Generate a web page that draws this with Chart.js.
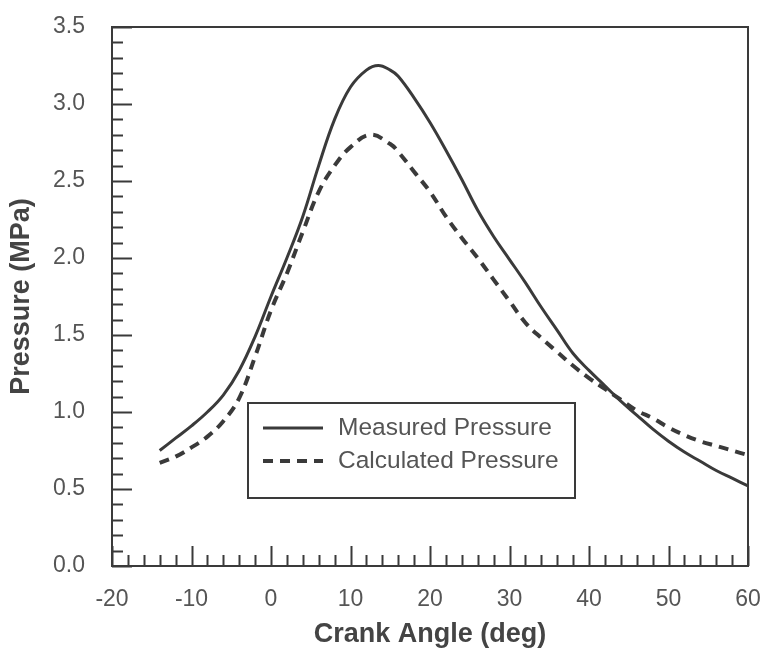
<!DOCTYPE html>
<html>
<head>
<meta charset="utf-8">
<script src="https://cdn.jsdelivr.net/npm/chart.js@4/dist/chart.umd.min.js"></script>
<style>
  html, body { margin: 0; padding: 0; background: #fff; }
  #wrap { width: 766px; height: 653px; position: relative; }
</style>
</head>
<body>
<div id="wrap"><canvas id="c"></canvas></div>
<script>
// crank angle (deg) and pressure (MPa)
const measuredAngle = [-14, -12, -10, -8, -6, -4, -2, 0, 2, 4, 6, 8, 10, 12, 13.5, 15, 16, 18, 20, 22, 24, 26, 28, 30, 32, 34, 36, 38, 40, 42, 44, 46, 48, 50, 52, 54, 56, 58, 60];
const measuredP     = [0.75, 0.83, 0.91, 1.00, 1.11, 1.27, 1.49, 1.75, 2.00, 2.27, 2.60, 2.90, 3.11, 3.22, 3.25, 3.22, 3.18, 3.04, 2.88, 2.70, 2.51, 2.31, 2.14, 1.99, 1.84, 1.68, 1.53, 1.38, 1.27, 1.17, 1.07, 0.98, 0.89, 0.81, 0.74, 0.68, 0.62, 0.57, 0.52];

const calcAngle = [-14, -12, -10, -8, -6, -4, -2, 0, 2, 4, 6, 8, 10, 12.5, 15, 16, 18, 20, 22, 24, 26, 28, 30, 32, 34, 36, 38, 40, 42, 44, 46, 48, 50, 52, 54, 56, 58, 60];
const calcP     = [0.67, 0.71, 0.77, 0.84, 0.94, 1.09, 1.36, 1.66, 1.90, 2.17, 2.43, 2.60, 2.72, 2.80, 2.74, 2.69, 2.56, 2.43, 2.27, 2.13, 2.00, 1.86, 1.72, 1.58, 1.48, 1.39, 1.30, 1.22, 1.15, 1.08, 1.01, 0.96, 0.90, 0.85, 0.81, 0.78, 0.75, 0.72];

const seriesNames = ['Measured Pressure', 'Calculated Pressure'];
const xTicks = [-20, -10, 0, 10, 20, 30, 40, 50, 60];
const yTicks = [0, 0.5, 1.0, 1.5, 2.0, 2.5, 3.0, 3.5];

const INK = '#3a3a3a';
const FONT = "'Liberation Sans', Arial, Helvetica, sans-serif";

const pts = (xs, ys) => xs.map((x, i) => ({ x, y: ys[i] }));

// frame, inward minor/major ticks and boxed legend
const framePlugin = {
  id: 'frame',
  afterDatasetsDraw(chart) {
    const { ctx, chartArea: a, scales: { x, y } } = chart;
    ctx.save();
    ctx.strokeStyle = INK;
    ctx.lineWidth = 2;
    ctx.strokeRect(a.left, a.top, a.right - a.left, a.bottom - a.top);

    ctx.beginPath();
    for (let v = -20; v <= 60; v += 2) {
      const px = Math.round(x.getPixelForValue(v)) + 0.5;
      const len = v % 10 === 0 ? 20 : 11;
      ctx.moveTo(px, a.bottom); ctx.lineTo(px, a.bottom - len);
    }
    for (let k = 0; k <= 35; k++) {
      const py = Math.round(y.getPixelForValue(k / 10)) + 0.5;
      const len = k % 5 === 0 ? 20 : 11;
      ctx.moveTo(a.left, py); ctx.lineTo(a.left + len, py);
    }
    ctx.stroke();

    // legend box
    const bx = 248, by = 403, bw = 327, bh = 95;
    ctx.lineWidth = 2;
    ctx.strokeRect(bx, by, bw, bh);
    ctx.font = '24.5px ' + FONT;
    ctx.fillStyle = '#555';
    ctx.textBaseline = 'middle';
    chart.data.datasets.forEach((ds, i) => {
      const ly = by + 25 + i * 33;
      ctx.beginPath();
      ctx.lineWidth = ds.borderWidth;
      ctx.setLineDash(ds.borderDash || []);
      ctx.moveTo(bx + 15, ly); ctx.lineTo(bx + 75, ly);
      ctx.stroke();
      ctx.setLineDash([]);
      ctx.fillText(ds.label, bx + 90, ly);
    });
    ctx.restore();
  }
};

new Chart(document.getElementById('c'), {
  type: 'line',
  data: {
    datasets: [
      { label: seriesNames[0], data: pts(measuredAngle, measuredP), borderColor: INK, borderWidth: 3, pointRadius: 0, tension: 0.4 },
      { label: seriesNames[1], data: pts(calcAngle, calcP), borderColor: INK, borderWidth: 4, borderDash: [10, 7], pointRadius: 0, tension: 0.4 }
    ]
  },
  options: {
    responsive: true,
    maintainAspectRatio: false,
    animation: false,
    layout: { padding: { top: 27, right: 18, left: 0, bottom: 0 } },
    plugins: { legend: { display: false }, tooltip: { enabled: false } },
    scales: {
      x: {
        type: 'linear', min: -20, max: 60,
        afterFit: s => { s.height = 87; s.paddingLeft = 0; s.paddingRight = 0; },
        afterBuildTicks: s => { s.ticks = xTicks.map(v => ({ value: v })); },
        grid: { display: false, drawTicks: false },
        border: { display: false },
        ticks: { color: '#555', font: { family: FONT, size: 23 }, padding: 20, maxRotation: 0 },
        title: { display: true, text: 'Crank Angle (deg)', color: '#444', font: { family: FONT, size: 27, weight: 'bold' }, padding: { top: 0, bottom: 2 } }
      },
      y: {
        min: 0, max: 3.5,
        afterFit: s => { s.width = 112; s.paddingTop = 0; s.paddingBottom = 0; },
        afterBuildTicks: s => { s.ticks = yTicks.map(v => ({ value: v })); },
        grid: { display: false, drawTicks: false },
        border: { display: false },
        ticks: { color: '#555', font: { family: FONT, size: 23 }, padding: 27, callback: v => Number(v).toFixed(1) },
        title: { display: true, text: 'Pressure (MPa)', color: '#444', font: { family: FONT, size: 27, weight: 'bold' }, padding: { top: 5, bottom: 0 } }
      }
    }
  },
  plugins: [framePlugin]
});
</script>
</body>
</html>
